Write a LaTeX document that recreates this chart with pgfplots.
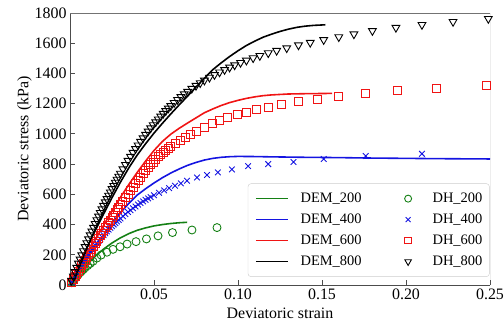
\documentclass[border=0pt]{standalone}
\usepackage{fontspec}
\setmainfont{Liberation Serif}
\usepackage{pgfplots}
\pgfplotsset{compat=1.18}

\definecolor{dgreen}{RGB}{20,128,20}
\definecolor{dblue}{RGB}{20,20,225}
\definecolor{dred}{RGB}{240,20,20}

\begin{document}
\begin{tikzpicture}
\begin{axis}[
  scale only axis, width=420bp, height=272bp,
  xmin=0, xmax=0.25, ymin=0, ymax=1800,
  axis x line*=bottom, axis y line*=left,
  axis line style={line width=1pt, black!70, -},
  tick align=inside, major tick length=5bp,
  tick style={black!70, line width=0.8pt},
  xtick={0.05,0.1,0.15,0.2,0.25},
  xticklabels={0.05,0.10,0.15,0.20,0.25},
  ytick={0,200,400,600,800,1000,1200,1400,1600,1800},
  yticklabels={0,200,400,600,800,1000,1200,1400,1600,1800},
  ticklabel style={font=\fontsize{16}{18}\selectfont},
  label style={font=\fontsize{16}{19}\selectfont},
  xlabel style={yshift=-2bp},
  ylabel style={yshift=-4bp},
  xlabel={Deviatoric strain},
  ylabel={Deviatoric stress (kPa)},
  legend columns=2,
  legend cell align=left,
  legend style={at={(0.999,0.03)}, anchor=south east, draw=black!20, rounded corners=3bp,
    fill=white, inner xsep=7bp, inner ysep=4.5bp, row sep=0bp,
    font=\fontsize{14.5}{17}\selectfont,
    nodes={text height=10bp, text depth=3bp, inner ysep=4bp, inner xsep=0bp},
    /tikz/column 1/.style={column sep=12bp},
    /tikz/column 2/.style={column sep=43bp},
    /tikz/column 3/.style={column sep=21bp}},
]
\coordinate (sw) at (rel axis cs:0,0);
\coordinate (ne) at (rel axis cs:1,1);
\draw[black!55, line width=0.6pt] (rel axis cs:0,1) -- (rel axis cs:1,1) -- (rel axis cs:1,0);

% DEM_200
\addplot[dgreen, line width=1.6pt, no marks,
  legend image code/.code={\draw[draw=dgreen, line width=1.6pt] (0bp,0bp) -- (32bp,0bp);}] coordinates {
(0,0) (0.005,70) (0.01,135) (0.015,190) (0.02,238) (0.025,278) (0.03,312) (0.035,340) (0.04,362) (0.045,378) (0.05,391) (0.055,400) (0.06,407) (0.065,412) (0.0697,415)};
\addlegendentry{DEM\_200}
% DH_200
\addplot[dgreen, only marks, mark=o, mark size=4bp, mark options={line width=0.9pt, fill=none},
  legend image code/.code={\draw[draw=dgreen, line width=0.9pt] plot[only marks, mark=o, mark size=3.5bp] coordinates {(0bp,0bp)};}] coordinates {
(0.001,15) (0.002,30) (0.003,44) (0.004,57) (0.005,70) (0.006,82) (0.007,93) (0.008,104) (0.009,114) (0.0105,128) (0.012,142) (0.0137,157) (0.016,178) (0.0185,198) (0.022,217) (0.0256,236) (0.0298,253) (0.034,271) (0.0393,287) (0.0455,305) (0.0524,325) (0.061,347) (0.0726,364) (0.0875,380)};
\addlegendentry{DH\_200}
% DEM_400
\addplot[dblue, line width=1.6pt, no marks,
  legend image code/.code={\draw[draw=dblue, line width=1.6pt] (0bp,0bp) -- (32bp,0bp);}] coordinates {
(0,0) (0.005,88) (0.01,172) (0.015,252) (0.02,330) (0.025,410) (0.03,478) (0.035,540) (0.04,595) (0.045,637) (0.05,675) (0.055,710) (0.06,741) (0.065,768) (0.07,792) (0.075,811) (0.08,827) (0.085,838) (0.09,845) (0.095,849) (0.10,851) (0.11,850) (0.12,848) (0.14,845) (0.16,843) (0.18,840) (0.20,838) (0.22,836) (0.25,834)};
\addlegendentry{DEM\_400}
% DH_400
\addplot[dblue, only marks, mark=x, mark size=4bp, mark options={line width=0.9pt},
  legend image code/.code={\draw[draw=dblue, line width=0.9pt] plot[only marks, mark=x, mark size=3.5bp] coordinates {(0bp,0bp)};}] coordinates {
(0.001,20) (0.002,40) (0.003,60) (0.004,80) (0.005,99) (0.006,118) (0.007,137) (0.008,155) (0.009,172) (0.010,188) (0.011,204) (0.012,220) (0.013,235) (0.014,250) (0.015,264) (0.016,278) (0.017,292) (0.018,305) (0.019,318) (0.020,330) (0.021,343) (0.022,355) (0.023,367) (0.024,378) (0.025,389) (0.026,400) (0.027,410) (0.028,420) (0.029,430) (0.030,440) (0.0315,455) (0.033,469) (0.0345,483) (0.036,495) (0.0375,508) (0.039,520) (0.0405,532) (0.042,543) (0.0435,553) (0.045,564) (0.0465,573) (0.048,582) (0.050,594) (0.053,610) (0.056,626) (0.059,641) (0.0625,657) (0.066,673) (0.0696,690) (0.0756,712) (0.0815,728) (0.088,745) (0.0964,765) (0.106,787) (0.118,800) (0.133,814) (0.151,834) (0.176,854) (0.2095,868)};
\addlegendentry{DH\_400}
% DEM_600
\addplot[dred, line width=1.6pt, no marks,
  legend image code/.code={\draw[draw=dred, line width=1.6pt] (0bp,0bp) -- (32bp,0bp);}] coordinates {
(0,0) (0.005,105) (0.01,205) (0.015,300) (0.02,395) (0.025,490) (0.03,580) (0.035,665) (0.04,745) (0.045,820) (0.05,890) (0.055,950) (0.06,998) (0.065,1037) (0.07,1072) (0.075,1106) (0.08,1140) (0.085,1165) (0.09,1188) (0.095,1207) (0.10,1222) (0.105,1235) (0.11,1245) (0.115,1253) (0.12,1258) (0.13,1264) (0.14,1266) (0.156,1268)};
\addlegendentry{DEM\_600}
% DH_600
\addplot[dred, only marks, mark=square, mark size=4bp, mark options={line width=0.9pt, fill=none},
  legend image code/.code={\draw[draw=dred, line width=0.9pt] plot[only marks, mark=square, mark size=3.3bp] coordinates {(0bp,0bp)};}] coordinates {
(0.001,18) (0.002,36) (0.003,54) (0.004,72) (0.005,90) (0.006,108) (0.007,127) (0.008,145) (0.009,163) (0.010,182) (0.011,200) (0.012,218) (0.013,236) (0.014,254) (0.015,272) (0.016,290) (0.017,308) (0.018,326) (0.019,344) (0.020,361) (0.021,378) (0.022,395) (0.023,412) (0.024,429) (0.025,446) (0.026,463) (0.027,480) (0.028,497) (0.029,514) (0.030,530) (0.0315,554) (0.033,578) (0.0345,602) (0.036,625) (0.0375,648) (0.039,671) (0.0405,693) (0.042,714) (0.0435,735) (0.045,756) (0.0465,776) (0.048,796) (0.0495,814) (0.051,832) (0.0525,848) (0.054,864) (0.0555,879) (0.057,893) (0.0585,906) (0.060,918) (0.0625,936) (0.0655,955) (0.0685,975) (0.0715,996) (0.075,1018) (0.080,1045) (0.0845,1068) (0.089,1088) (0.094,1108) (0.0995,1128) (0.105,1145) (0.111,1160) (0.118,1177) (0.126,1195) (0.136,1212) (0.147,1231) (0.160,1251) (0.176,1270) (0.195,1285) (0.218,1304) (0.248,1323)};
\addlegendentry{DH\_600}
% DEM_800
\addplot[black, line width=1.6pt, no marks,
  legend image code/.code={\draw[draw=black, line width=1.6pt] (0bp,0bp) -- (32bp,0bp);}] coordinates {
(0,0) (0.005,125) (0.01,245) (0.015,360) (0.02,470) (0.025,578) (0.03,680) (0.035,775) (0.04,860) (0.045,935) (0.05,1005) (0.055,1070) (0.06,1132) (0.065,1192) (0.07,1250) (0.075,1310) (0.08,1368) (0.085,1425) (0.09,1470) (0.095,1512) (0.10,1550) (0.105,1585) (0.11,1614) (0.115,1640) (0.12,1660) (0.125,1678) (0.13,1693) (0.135,1705) (0.14,1713) (0.145,1718) (0.152,1722)};
\addlegendentry{DEM\_800}
% DH_800
\addplot[black, only marks, mark=triangle, mark size=4.5bp, mark options={rotate=180, line width=0.9pt, fill=none},
  legend image code/.code={\draw[draw=black, line width=0.9pt] plot[only marks, mark=triangle, mark size=3.8bp, mark options={rotate=180}] coordinates {(0bp,0bp)};}] coordinates {
(0.001,29) (0.002,58) (0.003,87) (0.004,115) (0.005,143) (0.006,170) (0.007,198) (0.008,225) (0.009,252) (0.010,278) (0.011,304) (0.012,330) (0.013,355) (0.014,380) (0.015,405) (0.016,430) (0.017,454) (0.018,478) (0.019,502) (0.020,525) (0.021,548) (0.022,570) (0.023,592) (0.024,614) (0.025,636) (0.026,657) (0.027,678) (0.028,698) (0.029,718) (0.030,738) (0.0315,767) (0.033,796) (0.0345,823) (0.036,850) (0.0375,876) (0.039,901) (0.0405,925) (0.042,949) (0.0435,972) (0.045,995) (0.0465,1017) (0.048,1038) (0.0495,1059) (0.051,1078) (0.0525,1097) (0.054,1116) (0.0555,1134) (0.057,1152) (0.0585,1169) (0.060,1185) (0.062,1206) (0.064,1226) (0.066,1245) (0.068,1263) (0.070,1280) (0.0725,1300) (0.075,1319) (0.0775,1337) (0.080,1354) (0.083,1373) (0.086,1391) (0.089,1408) (0.092,1424) (0.095,1440) (0.098,1455) (0.1015,1471) (0.105,1486) (0.109,1502) (0.113,1517) (0.118,1535) (0.123,1551) (0.129,1568) (0.136,1587) (0.143,1604) (0.151,1622) (0.160,1641) (0.169,1660) (0.180,1682) (0.194,1703) (0.2095,1722) (0.228,1742) (0.249,1762)};
\addlegendentry{DH\_800}
\end{axis}
\pgfresetboundingbox
\path[use as bounding box] ([shift={(-70bp,-45bp)}]sw) rectangle ([shift={(14bp,13bp)}]ne);
\end{tikzpicture}
\end{document}
